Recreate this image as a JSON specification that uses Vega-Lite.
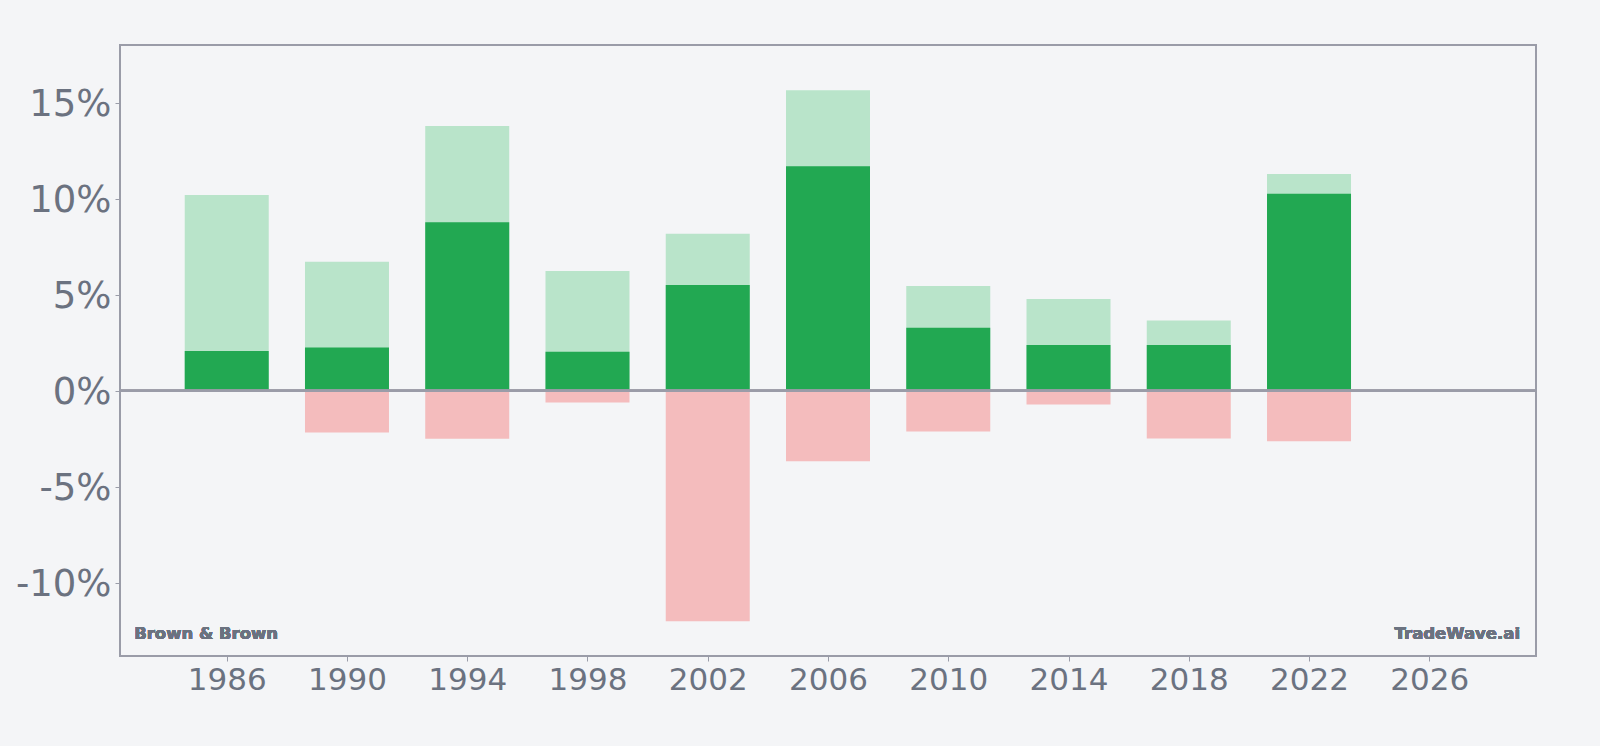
{
  "$schema": "https://vega.github.io/schema/vega-lite/v6.json",
  "width": 1416,
  "height": 611,
  "autosize": {"type": "none"},
  "padding": {"left": 120, "top": 45, "right": 64, "bottom": 90},
  "background": "#f4f5f7",
  "config": {
    "view": {"stroke": "#9a9ca8", "strokeWidth": 2, "fill": "#f4f5f7"},
    "font": "DejaVu Sans"
  },
  "data": {
    "values": [
      {"year": 1986, "high": 10.19, "ret": 2.08, "low": 0},
      {"year": 1990, "high": 6.72, "ret": 2.25, "low": -2.17},
      {"year": 1994, "high": 13.79, "ret": 8.78, "low": -2.49},
      {"year": 1998, "high": 6.24, "ret": 2.03, "low": -0.61},
      {"year": 2002, "high": 8.18, "ret": 5.51, "low": -11.99},
      {"year": 2006, "high": 15.64, "ret": 11.69, "low": -3.67},
      {"year": 2010, "high": 5.46, "ret": 3.29, "low": -2.11},
      {"year": 2014, "high": 4.78, "ret": 2.39, "low": -0.71},
      {"year": 2018, "high": 3.66, "ret": 2.39, "low": -2.48},
      {"year": 2022, "high": 11.28, "ret": 10.26, "low": -2.62}
    ]
  },
  "encoding": {
    "x": {
      "field": "year",
      "type": "quantitative",
      "scale": {"domain": [1982.45, 2029.55], "nice": false, "zero": false, "padding": 0},
      "axis": {
        "title": null,
        "values": [1986, 1990, 1994, 1998, 2002, 2006, 2010, 2014, 2018, 2022, 2026],
        "format": "d",
        "grid": false,
        "domain": false,
        "tickColor": "#9a9ca8",
        "tickSize": 5,
        "labelFontSize": 31,
        "labelColor": "#6b7280",
        "labelPadding": 4,
        "labelFont": "DejaVu Sans"
      }
    }
  },
  "layer": [
    {
      "mark": {"type": "bar", "size": 84, "color": "#b9e4ca"},
      "encoding": {
        "y": {
          "field": "high",
          "type": "quantitative",
          "scale": {"domain": [-13.8, 18.0], "nice": false, "zero": false, "padding": 0},
          "axis": {
            "title": null,
            "values": [-10, -5, 0, 5, 10, 15],
            "labelExpr": "datum.value + '%'",
            "grid": false,
            "domain": false,
            "tickColor": "#9a9ca8",
            "tickSize": 5,
            "labelFontSize": 37,
            "labelColor": "#6b7280",
            "labelPadding": 4,
            "labelOffset": 2,
            "labelFont": "DejaVu Sans"
          }
        }
      }
    },
    {
      "mark": {"type": "bar", "size": 84, "color": "#22a852"},
      "encoding": {"y": {"field": "ret", "type": "quantitative"}}
    },
    {
      "mark": {"type": "bar", "size": 84, "color": "#f4bcbd"},
      "encoding": {"y": {"field": "low", "type": "quantitative"}}
    },
    {
      "mark": {"type": "rule", "color": "#9a9ca8", "strokeWidth": 2},
      "encoding": {"y": {"datum": 0}, "x": null}
    },
    {
      "mark": {"type": "text", "text": "Brown & Brown", "align": "left", "baseline": "alphabetic", "fontSize": 16.5, "fontWeight": "bold", "color": "#6b7280", "font": "DejaVu Sans"},
      "encoding": {"x": {"datum": 1982.92}, "y": {"datum": -12.94}}
    },
    {
      "mark": {"type": "text", "text": "TradeWave.ai", "align": "right", "baseline": "alphabetic", "fontSize": 16.5, "fontWeight": "bold", "color": "#6b7280", "font": "DejaVu Sans"},
      "encoding": {"x": {"datum": 2029.02}, "y": {"datum": -12.94}}
    }
  ]
}
